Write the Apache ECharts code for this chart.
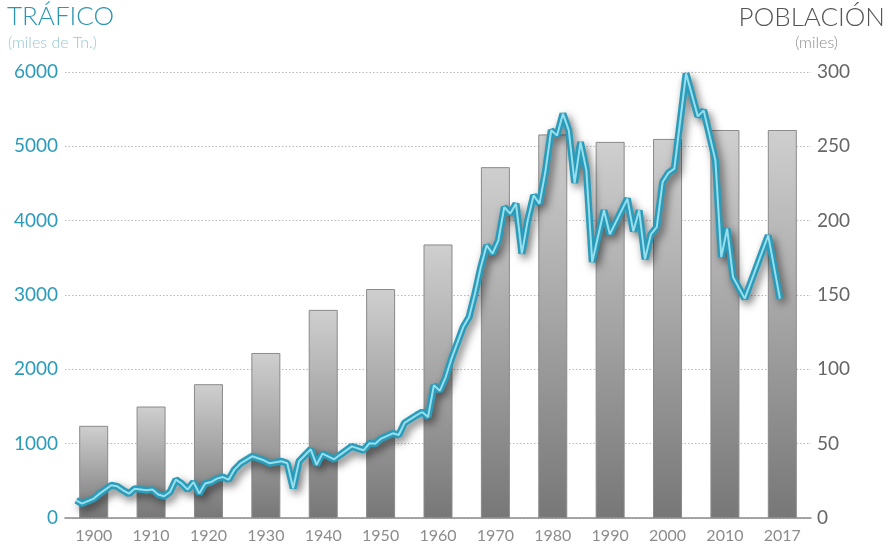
<!DOCTYPE html>
<html>
<head>
<meta charset="utf-8">
<title>Tráfico y población</title>
<script src="https://cdn.jsdelivr.net/npm/echarts@6/dist/echarts.min.js"></script>
<style>
  html, body { margin: 0; padding: 0; background: #ffffff; }
  #chart { width: 892px; height: 548px; }
</style>
</head>
<body>
<div id="chart"></div>
<script>
// Population (thousands) by census year, drawn as bars on the right axis
const decadas = ['1900', '1910', '1920', '1930', '1940', '1950', '1960', '1970', '1980', '1990', '2000', '2010', '2017'];
const poblacion = [62, 75, 90, 111, 140, 154, 184, 236, 258, 253, 255, 261, 261];

// Port traffic (thousands of tonnes) by year, drawn as a line on the left axis
const anios = [
  1897, 1898, 1900, 1901, 1903, 1904, 1905, 1906, 1907, 1909,
  1910, 1911, 1912, 1913, 1914, 1915, 1916, 1917, 1918, 1919,
  1920, 1921, 1922, 1923, 1924, 1925, 1927, 1929, 1930, 1932,
  1933, 1934, 1935, 1937, 1938, 1939, 1941, 1942, 1944, 1946,
  1947, 1948, 1949, 1951, 1952, 1953, 1955, 1956, 1957, 1958,
  1959, 1960, 1961, 1963, 1964, 1965, 1966, 1967, 1968, 1969,
  1970, 1971, 1972, 1973, 1974, 1975, 1976, 1977, 1978, 1979,
  1980, 1981, 1982, 1983, 1984, 1985, 1987, 1988, 1991, 1992,
  1993, 1994, 1995, 1996, 1997, 1998, 1999, 2001, 2003, 2004,
  2006, 2007, 2008, 2009, 2011, 2015, 2017
];
const trafico = [
  238, 194, 261, 328, 440, 426, 373, 328, 395, 373,
  382, 315, 292, 350, 516, 463, 382, 484, 328, 463,
  484, 530, 551, 516, 651, 732, 830, 776, 736, 763,
  736, 400, 763, 924, 716, 866, 790, 850, 964, 911,
  1005, 998, 1068, 1139, 1116, 1280, 1381, 1426, 1358, 1785,
  1711, 1893, 2144, 2569, 2703, 3018, 3376, 3668, 3556, 3735,
  4183, 4094, 4229, 3556, 4004, 4340, 4229, 4654, 5215, 5147,
  5439, 5215, 4508, 5057, 4677, 3443, 4139, 3816, 4296, 3856,
  4139, 3480, 3816, 3914, 4519, 4643, 4700, 5980, 5403, 5484,
  4811, 3510, 3892, 3241, 2951, 3802, 2951
];

// Axis ticks
const ticksTrafico = { min: 0, max: 6000, interval: 1000 };
const ticksPoblacion = { min: 0, max: 300, interval: 50 };

const FONT = 'Lato, "Open Sans", sans-serif';
const TEAL = '#2a9cba';

const serieTrafico = anios.map((a, i) => [a, trafico[i]]);

const chart = echarts.init(document.getElementById('chart'), null, { renderer: 'canvas' });

chart.setOption({
  animation: false,
  backgroundColor: '#ffffff',
  textStyle: { fontFamily: FONT },
  grid: { left: 65, right: 81, top: 72, bottom: 30, containLabel: false },
  graphic: [
    { type: 'text', left: 7, top: 4,
      style: { text: 'TRÁFICO', fill: '#2b96b2', font: '300 26px ' + FONT } },
    { type: 'text', left: 8, top: 35,
      style: { text: '(miles de Tn.)', fill: '#92c7d5', font: '300 16px ' + FONT } },
    { type: 'text', right: 7, top: 5,
      style: { text: 'POBLACIÓN', fill: '#555555', font: '300 26px ' + FONT } },
    { type: 'text', right: 54, top: 35,
      style: { text: '(miles)', fill: '#8a8a8a', font: '300 16px ' + FONT } }
  ],
  xAxis: [
    {
      type: 'category',
      data: decadas,
      boundaryGap: true,
      axisLine: { lineStyle: { color: '#8a8a8a', width: 1.5 } },
      axisTick: { show: false },
      axisLabel: { color: '#8c8c8c', fontSize: 16, fontWeight: 400, margin: 10, fontFamily: FONT }
    },
    {
      type: 'value',
      min: 1895.1,
      max: 2022.3,
      show: false
    }
  ],
  yAxis: [
    {
      type: 'value',
      position: 'left',
      min: ticksTrafico.min, max: ticksTrafico.max, interval: ticksTrafico.interval,
      axisLine: { show: false },
      axisTick: { show: false },
      axisLabel: {
        color: TEAL, fontSize: 19, fontWeight: 400, margin: 7, fontFamily: FONT,
        formatter: (v) => String(v)
      },
      splitLine: { lineStyle: { color: '#b8b8b8', width: 1, type: [1.5, 2] } }
    },
    {
      type: 'value',
      position: 'right',
      min: ticksPoblacion.min, max: ticksPoblacion.max, interval: ticksPoblacion.interval,
      axisLine: { show: false },
      axisTick: { show: false },
      axisLabel: {
        color: '#666666', fontSize: 19, fontWeight: 400, margin: 6, fontFamily: FONT,
        formatter: (v) => String(v)
      },
      splitLine: { show: false }
    }
  ],
  series: [
    {
      name: 'Población',
      type: 'bar',
      xAxisIndex: 0,
      yAxisIndex: 1,
      data: poblacion,
      barWidth: 29,
      itemStyle: {
        color: new echarts.graphic.LinearGradient(0, 0, 0, 1, [
          { offset: 0, color: '#cfcfcf' },
          { offset: 1, color: '#777777' }
        ]),
        borderColor: '#8a8a8a',
        borderWidth: 1
      },
      z: 2
    },
    {
      name: 'Tráfico',
      type: 'line',
      xAxisIndex: 1,
      yAxisIndex: 0,
      data: serieTrafico,
      symbol: 'none',
      lineStyle: {
        color: TEAL,
        width: 7,
        shadowColor: 'rgba(0,0,0,0.55)',
        shadowBlur: 8,
        shadowOffsetX: 3,
        shadowOffsetY: 4
      },
      z: 3
    },
    {
      name: 'Tráfico (trazo)',
      type: 'line',
      xAxisIndex: 1,
      yAxisIndex: 0,
      data: serieTrafico,
      symbol: 'none',
      lineStyle: { color: '#98dfee', width: 2 },
      z: 4
    }
  ]
});
</script>
</body>
</html>
